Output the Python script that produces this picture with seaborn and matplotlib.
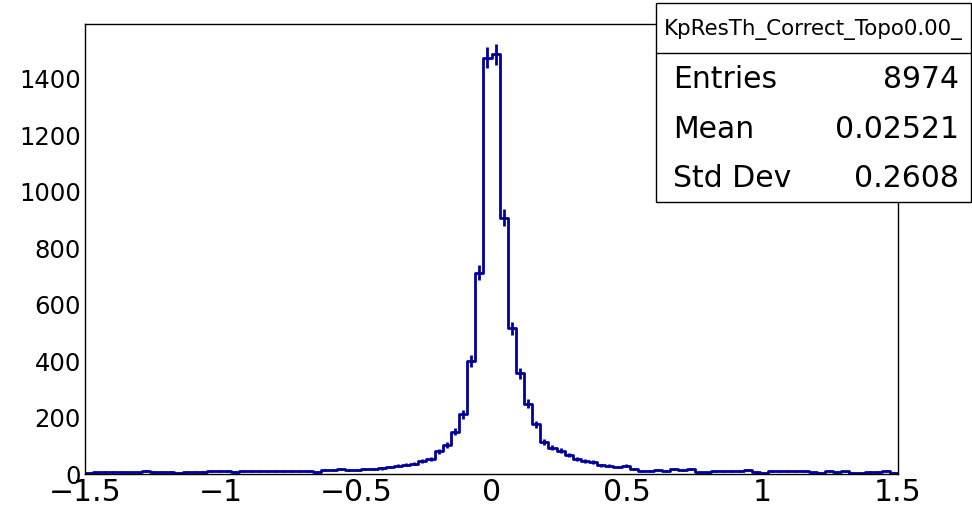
import numpy as np
import pandas as pd
import matplotlib
matplotlib.use("Agg")
import matplotlib.pyplot as plt
import seaborn as sns
from matplotlib.ticker import MultipleLocator
from matplotlib.patches import Rectangle

# ---------------- data ----------------
x_low, x_high, n_bins = -1.5, 1.5, 100
counts = [
    5, 6, 8, 8, 8, 6, 6, 12, 8, 8,
    8, 5, 8, 8, 8, 12, 10, 10, 7, 12,
    12, 11, 9, 12, 10, 12, 12, 12, 8, 14,
    14, 18, 13, 13, 17, 17, 20, 25, 30, 33,
    37, 46, 54, 80, 103, 150, 211, 400, 713, 1475,
    1486, 908, 516, 357, 249, 176, 114, 93, 83, 67,
    54, 47, 42, 31, 29, 25, 30, 18, 12, 12,
    14, 12, 17, 13, 17, 6, 6, 9, 9, 12,
    12, 14, 8, 5, 10, 9, 10, 9, 10, 6,
    5, 9, 8, 9, 5, 4, 7, 7, 10, 5,
]
hist_name = "KpResTh_Correct_Topo0.00_"
stat_labels = ["Entries", "Mean", "Std Dev"]
stat_values = ["8974", "0.02521", "0.2608"]
y_ticks = [0, 200, 400, 600, 800, 1000, 1200, 1400]
x_ticks = [-1.5, -1, -0.5, 0, 0.5, 1, 1.5]

# ---------------- figure ----------------
W, H = 972, 509
sns.set_style("white")
plt.rcParams["font.family"] = ["DejaVu Sans"]
plt.rcParams["axes.unicode_minus"] = True
plt.rcParams["text.color"] = "black"

fig = plt.figure(figsize=(W / 100, H / 100), dpi=100)
ax = fig.add_axes([85 / W, 1 - 474 / H, (898 - 85) / W, (474 - 24) / H])

width = (x_high - x_low) / n_bins
centers = x_low + width * (np.arange(n_bins) + 0.5)
df = pd.DataFrame({"x": centers, "n": counts})
col = "#00009a"

sns.histplot(data=df, x="x", weights="n", bins=n_bins, binrange=(x_low, x_high),
             element="step", fill=False, color=col, linewidth=2.0, ax=ax)
ax.errorbar(df["x"], df["n"], yerr=np.sqrt(df["n"]), fmt="none",
            ecolor=col, elinewidth=2.0, capsize=0)

ax.set_xlim(x_low, x_high)
ax.set_ylim(0, 1594)
ax.set_xlabel("")
ax.set_ylabel("")

ax.set_xticks(x_ticks)
ax.set_xticklabels(["\u22121.5", "\u22121", "\u22120.5", "0", "0.5", "1", "1.5"])
ax.set_yticks(y_ticks)
ax.set_yticklabels([str(v) for v in y_ticks])
ax.xaxis.set_minor_locator(MultipleLocator(0.1))
ax.yaxis.set_minor_locator(MultipleLocator(50))

ax.tick_params(axis="both", which="both", direction="in", top=False, right=False,
               colors="black", width=1.0)
ax.tick_params(axis="x", which="major", length=9.5, labelsize=21.5, pad=3)
ax.tick_params(axis="x", which="minor", length=4.7)
ax.tick_params(axis="y", which="major", length=18, labelsize=17.5, pad=3)
ax.tick_params(axis="y", which="minor", length=9)
for s in ax.spines.values():
    s.set_color("black")
    s.set_linewidth(1.0)
    s.set_visible(True)

# ---------------- stats box ----------------
bx0, by0, bx1, by1 = 656, 3, 971, 202
fig.patches.append(Rectangle((bx0 / W, 1 - by1 / H), (bx1 - bx0) / W, (by1 - by0) / H,
                             transform=fig.transFigure, facecolor="white",
                             edgecolor="black", linewidth=1.0, zorder=10))
fig.add_artist(plt.Line2D([bx0 / W, bx1 / W], [1 - 53 / H, 1 - 53 / H],
                          transform=fig.transFigure, color="black", linewidth=1.0, zorder=11))
fig.text(664 / W, 1 - 35 / H, hist_name, fontsize=15.4, ha="left", va="baseline",
         color="black", zorder=12)
baselines = [88.5, 138.5, 187.0]
for lab, val, b in zip(stat_labels, stat_values, baselines):
    fig.text(673 / W, 1 - b / H, lab, fontsize=21.5, ha="left", va="baseline",
             color="black", zorder=12)
    fig.text(959 / W, 1 - b / H, val, fontsize=21.5, ha="right", va="baseline",
             color="black", zorder=12)

fig.savefig("out.png", dpi=100)
